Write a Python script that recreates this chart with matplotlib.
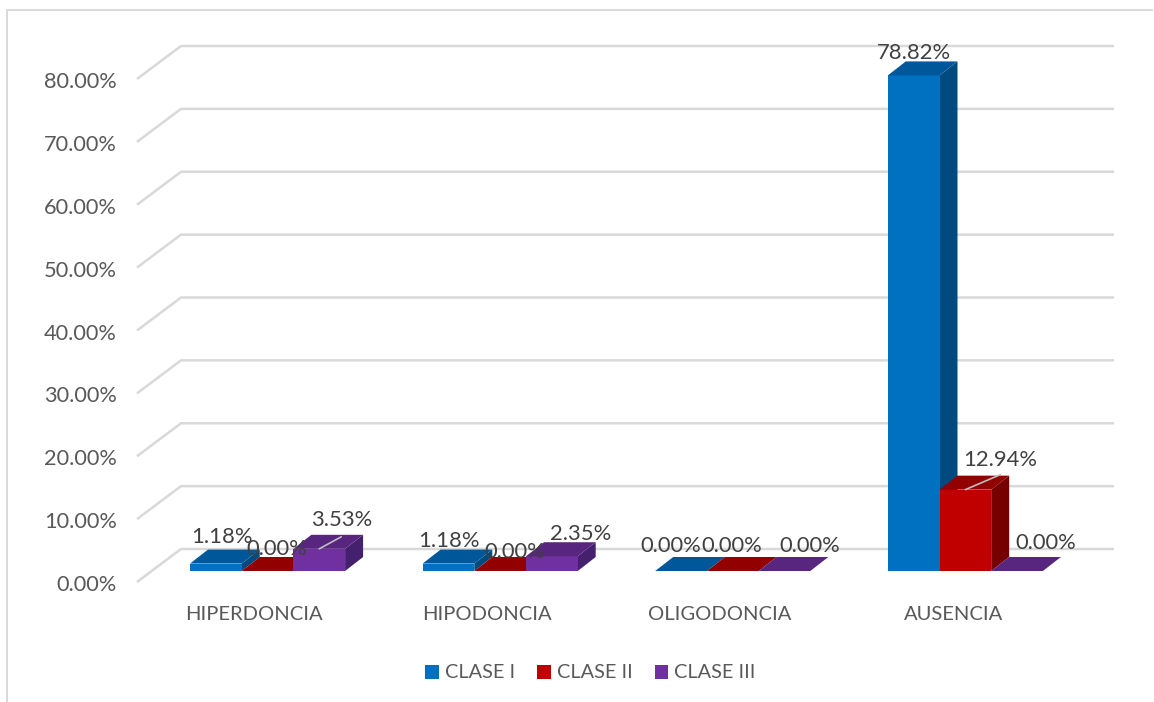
import matplotlib
matplotlib.use('Agg')
import matplotlib.pyplot as plt
from matplotlib.lines import Line2D
from matplotlib.patches import Patch
from matplotlib.transforms import ScaledTranslation

plt.rcParams['font.family'] = ['Lato', 'DejaVu Sans']

categories = ['HIPERDONCIA', 'HIPODONCIA', 'OLIGODONCIA', 'AUSENCIA']
clase_1 = [1.18, 1.18, 0.00, 78.82]
clase_2 = [0.00, 0.00, 0.00, 12.94]
clase_3 = [3.53, 2.35, 0.00, 0.00]
series_names = ['CLASE I', 'CLASE II', 'CLASE III']
yticks = [0, 10, 20, 30, 40, 50, 60, 70, 80]

front_colors = ['#0070C0', '#C00000', '#7030A0']
top_colors = ['#00589A', '#930000', '#58267F']
side_colors = ['#004A80', '#760000', '#44206F']

W, H = 1154, 702
fig = plt.figure(figsize=(W / 100, H / 100), dpi=100)

# front plane of the fake 3d box, in pixels
left, right, y0, y80 = 137, 1070, 582, 79
ax = fig.add_axes([left / W, 1 - y0 / H, (right - left) / W, (y0 - y80) / H])
ax.set_xlim(0, 4)
ax.set_ylim(0, 80)
for s in ax.spines.values():
    s.set_visible(False)

px_x = (right - left) / 4
px_y = (y0 - y80) / 80

# depth offsets, pixels -> data
wall_dx, wall_dy = 44 / px_x, 33 / px_y
base_dx, base_dy = 14 / px_x, 11 / px_y
bar_dx, bar_dy = 18 / px_x, 14 / px_y
bar_w = 51.7 / px_x
pad = 39 / px_x
cat_step = 232.6 / px_x

# walls
for v in yticks:
    ax.plot([0, wall_dx, 4 + wall_dx], [v, v + wall_dy, v + wall_dy], color='#D9D9D9',
            lw=1.8, clip_on=False, zorder=1, solid_capstyle='butt')

# label offsets from the front top centre of the bar, pixels
label_off = [[(6, 27), (9, 22), (22, 29)],
             [(0, 23), (15, 19), (29, 22)],
             [(-10, 25), (-1, 25), (25.5, 25)],
             [(0, 22), (35, 30), (28.5, 28)]]
leaders = {(0, 2): (22, 12), (3, 1): (35, 15)}

all_series = [clase_1, clase_2, clase_3]
z = 3
for i in range(len(categories)):
    for j, vals in enumerate(all_series):
        v = vals[i]
        x0 = i * cat_step + base_dx + pad + j * bar_w
        x1 = x0 + bar_w
        b = base_dy
        t = b + v
        if v > 0:
            ax.fill([x1, x1 + bar_dx, x1 + bar_dx, x1], [b, b + bar_dy, t + bar_dy, t],
                    color=side_colors[j], lw=0, clip_on=False, zorder=z)
            ax.fill([x0, x1, x1, x0], [b, b, t, t], color=front_colors[j], lw=0,
                    clip_on=False, zorder=z)
        ax.fill([x0, x1, x1 + bar_dx, x0 + bar_dx], [t, t, t + bar_dy, t + bar_dy],
                color=top_colors[j], lw=0, clip_on=False, zorder=z)
        z += 1

        xc = (x0 + x1) / 2
        ax.annotate('%.2f%%' % v, xy=(xc, t), xytext=label_off[i][j], textcoords='offset pixels',
                    ha='center', va='center', fontsize=15.8, color='#404040', zorder=50,
                    annotation_clip=False)
        if (i, j) in leaders:
            ax.annotate('', xy=(xc, t), xytext=leaders[(i, j)], textcoords='offset pixels',
                        arrowprops=dict(arrowstyle='-', color='#BFBFBF', lw=1.2,
                                        shrinkA=0, shrinkB=0),
                        zorder=40, annotation_clip=False)

ax.set_yticks(yticks)
ax.set_yticklabels(['%.2f%%' % v for v in yticks], fontsize=15.7, color='#595959')
ax.set_xticks([i + 0.5 for i in range(len(categories))])
ax.set_xticklabels(categories, fontsize=14.5, color='#595959')
ax.tick_params(axis='y', length=0, pad=14.5)
ax.tick_params(axis='x', length=0, pad=17)

# y labels sit a little lower than the gridline ends
shift = ScaledTranslation(0, -0.8 / 72, fig.dpi_scale_trans)
for lab in ax.get_yticklabels():
    lab.set_transform(lab.get_transform() + shift)

handles = [Patch(facecolor=c, edgecolor='none') for c in front_colors]
fig.legend(handles, series_names, loc='center', bbox_to_anchor=(590.5 / W, 1 - 673 / H), ncol=3,
           frameon=False, fontsize=14.3, labelcolor='#595959', handlelength=0.7, handleheight=0.7,
           handletextpad=0.3, columnspacing=1.1)

# chart area border
fig.add_artist(Line2D([7 / W, 7 / W, 1152 / W], [0, 1 - 10 / H, 1 - 10 / H], color='#D9D9D9', lw=1.4))

fig.savefig('out.png', dpi=100)
